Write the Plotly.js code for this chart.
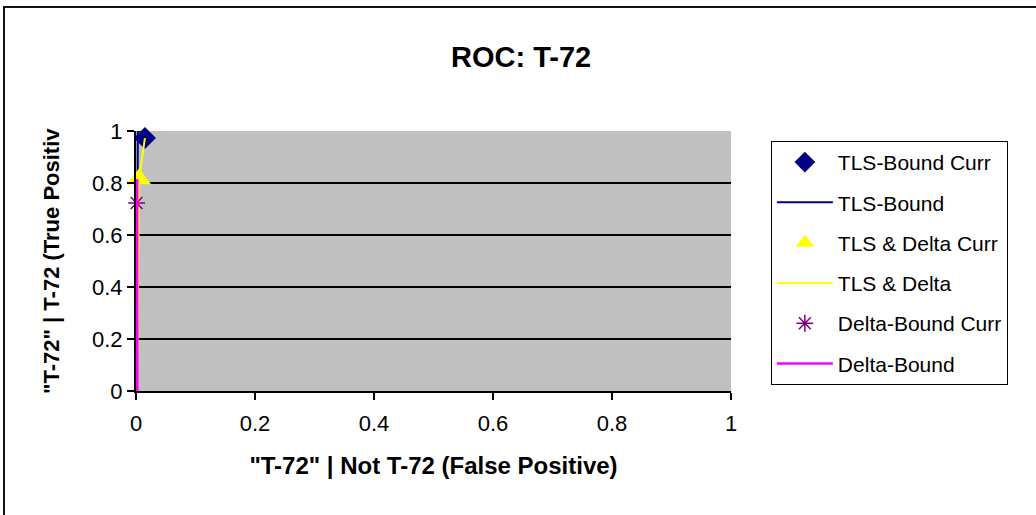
<!DOCTYPE html>
<html>
<head>
<meta charset="utf-8">
<script src="https://cdn.plot.ly/plotly-3.0.1.min.js"></script>
<style>
  html, body { margin: 0; padding: 0; background: #ffffff; }
  #wrap { position: relative; width: 1036px; height: 515px; overflow: hidden; }
  #chart { position: absolute; left: 0; top: 0; width: 1036px; height: 515px; }
  #frame { position: absolute; left: 3px; top: 6px; width: 1100px; height: 600px;
           border-top: 2px solid #111; border-left: 2px solid #111; pointer-events: none; }
</style>
</head>
<body>
<div id="wrap">
  <div id="chart"></div>
  <div id="frame"></div>
</div>
<script>
// ---- data ----
const chartTitle = 'ROC: T-72';
const xAxisTitle = '"T-72" | Not T-72 (False Positive)';
const yAxisTitle = '"T-72" | T-72 (True Positiv';
const tickValues = [0, 0.2, 0.4, 0.6, 0.8, 1];
const tickLabels = ['0', '0.2', '0.4', '0.6', '0.8', '1'];

const seriesNames = ['TLS-Bound Curr', 'TLS-Bound', 'TLS & Delta Curr', 'TLS & Delta', 'Delta-Bound Curr', 'Delta-Bound'];

const tlsBoundCurrX = [0.015];
const tlsBoundCurrY = [0.973];
const tlsBoundX = [0.002, 0.003, 0.003, 0.02];
const tlsBoundY = [0, 0.83, 1.0, 1.0];

const tlsDeltaCurrX = [0.005];
const tlsDeltaCurrY = [0.815];
const tlsDeltaX = [0.002, 0.005, 0.015];
const tlsDeltaY = [0, 0.815, 0.973];

const deltaBoundCurrX = [0.001];
const deltaBoundCurrY = [0.723];
const deltaBoundX = [0.002, 0.002, 0.002];
const deltaBoundY = [0, 0.723, 0.815];

const font = 'Liberation Sans, Arial, sans-serif';

const traces = [
  { x: tlsBoundCurrX, y: tlsBoundCurrY, name: seriesNames[0], mode: 'markers',
    marker: { symbol: 'diamond', size: 17, color: '#000080' }, legendgroup: 'g1', cliponaxis: false },
  { x: tlsBoundX, y: tlsBoundY, name: seriesNames[1], mode: 'lines',
    line: { color: '#000080', width: 2 }, legendgroup: 'g2', cliponaxis: false },
  { x: tlsDeltaCurrX, y: tlsDeltaCurrY, name: seriesNames[2], mode: 'markers',
    marker: { symbol: 'triangle-up', size: 21, color: '#FFFF00' }, legendgroup: 'g3', cliponaxis: false },
  { x: tlsDeltaX, y: tlsDeltaY, name: seriesNames[3], mode: 'lines',
    line: { color: '#FFFF00', width: 2 }, legendgroup: 'g4', cliponaxis: false },
  { x: deltaBoundCurrX, y: deltaBoundCurrY, name: seriesNames[4], mode: 'markers',
    marker: { symbol: 'asterisk-open', size: 14, color: '#800080', line: { color: '#800080', width: 1.5 } },
    legendgroup: 'g5', cliponaxis: false },
  { x: deltaBoundX, y: deltaBoundY, name: seriesNames[5], mode: 'lines',
    line: { color: '#FF00FF', width: 2.5 }, legendgroup: 'g6', cliponaxis: false }
];

const layout = {
  width: 1036, height: 515,
  margin: { l: 136, r: 305, t: 131, b: 124 },
  paper_bgcolor: 'rgba(0,0,0,0)',
  plot_bgcolor: '#C0C0C0',
  font: { family: font, color: '#000000', size: 22 },
  title: { text: chartTitle, font: { family: font, size: 29, weight: 'bold', color: '#000' },
           x: 0.503, xanchor: 'center', y: 0.89, yanchor: 'middle' },
  showlegend: true,
  legend: {
    x: 1.067, xanchor: 'left', y: 0.962, yanchor: 'top',
    bgcolor: '#FFFFFF', bordercolor: '#000000', borderwidth: 1,
    font: { family: font, size: 21, color: '#000' },
    traceorder: 'grouped', tracegroupgap: 10, itemwidth: 56
  },
  xaxis: {
    range: [0, 1], tickvals: tickValues, ticktext: tickLabels,
    ticks: 'outside', ticklen: 7, tickcolor: '#000', tickwidth: 1.5,
    ticklabelstandoff: 5,
    showgrid: false, zeroline: false,
    showline: true, linecolor: '#000', linewidth: 2,
    tickfont: { family: font, size: 22, color: '#000' },
    title: { text: xAxisTitle, font: { family: font, size: 24, weight: 'bold', color: '#000' }, standoff: 22 },
    fixedrange: true
  },
  yaxis: {
    range: [0, 1], tickvals: tickValues, ticktext: tickLabels,
    ticks: 'outside', ticklen: 7, tickcolor: '#000', tickwidth: 1.5,
    showgrid: true, gridcolor: '#000000', gridwidth: 2,
    zeroline: false, showline: true, linecolor: '#000', linewidth: 2,
    tickfont: { family: font, size: 22, color: '#000' },
    fixedrange: true
  },
  annotations: [{
    text: yAxisTitle, textangle: -90, showarrow: false,
    xref: 'paper', yref: 'paper', x: -0.143, y: 0.5, xanchor: 'center', yanchor: 'middle',
    font: { family: font, size: 22, weight: 'bold', color: '#000' }
  }]
};

Plotly.newPlot('chart', traces, layout, { displayModeBar: false, staticPlot: true });
</script>
</body>
</html>
